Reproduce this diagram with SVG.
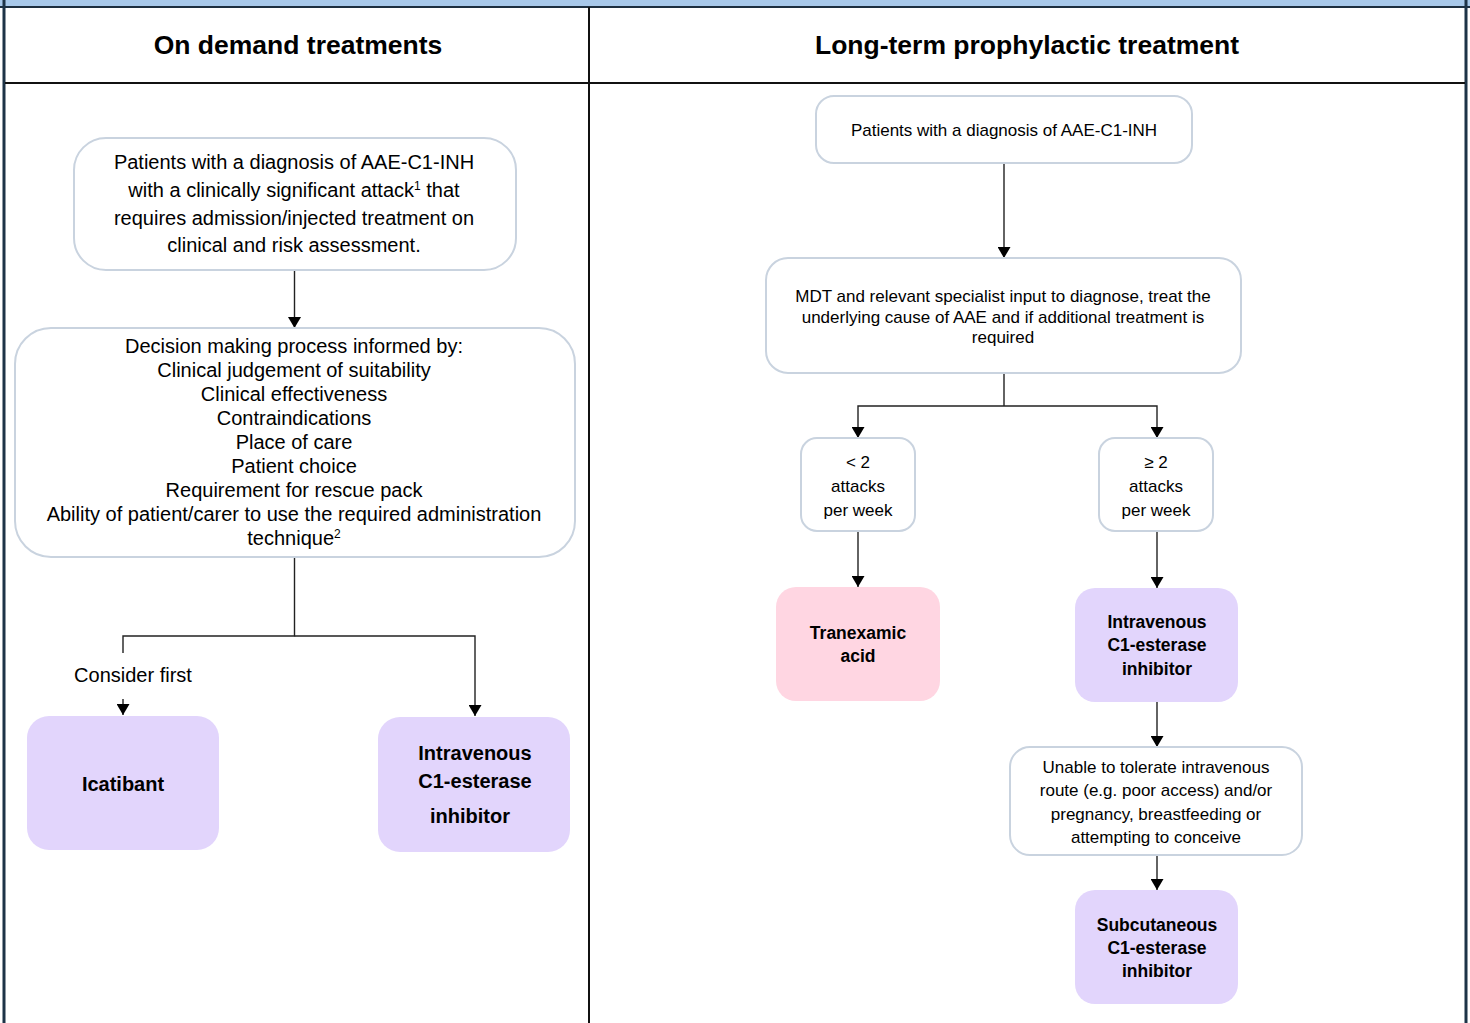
<svg xmlns="http://www.w3.org/2000/svg" width="1470" height="1023" viewBox="0 0 1470 1023">
<defs>
<marker id="ah" markerWidth="11" markerHeight="13" refX="11" refY="6.5" orient="auto" markerUnits="userSpaceOnUse">
<path d="M0,0 L11,6.5 L0,13 Z" fill="#000"/>
</marker>
<style>
.hdr{font-family:"Liberation Sans",Arial,sans-serif;font-weight:bold;font-size:26.5px;fill:#000;text-anchor:middle}
.box{fill:#fff;stroke:#c9d3df;stroke-width:2}
.lav{fill:#e2d5fc;stroke:none}
.pink{fill:#ffd6e2;stroke:none}
.t19{font-family:"Liberation Sans",Arial,sans-serif;font-size:20px;fill:#000;text-anchor:middle}
.t16{font-family:"Liberation Sans",Arial,sans-serif;font-size:17px;fill:#000;text-anchor:middle}
.b20{font-family:"Liberation Sans",Arial,sans-serif;font-weight:bold;font-size:20px;fill:#000;text-anchor:middle}
.b17{font-family:"Liberation Sans",Arial,sans-serif;font-weight:bold;font-size:17.5px;fill:#000;text-anchor:middle}
.c{fill:none;stroke:#222;stroke-width:1.4}
.ca{fill:none;stroke:#222;stroke-width:1.4;marker-end:url(#ah)}
</style>
</defs>
<rect width="1470" height="1023" fill="#fff"/>
<g id="frame">
<rect x="0" y="0" width="1470" height="7" fill="#a8c9eb"/>
<line x1="0" y1="7" x2="1470" y2="7" stroke="#1d2f40" stroke-width="2"/>
<line x1="4" y1="0" x2="4" y2="1023" stroke="#1d3347" stroke-width="3"/>
<line x1="1466" y1="0" x2="1466" y2="1023" stroke="#1d3347" stroke-width="3"/>
<line x1="589" y1="7" x2="589" y2="1023" stroke="#111" stroke-width="2"/>
<line x1="5" y1="83" x2="1465" y2="83" stroke="#111" stroke-width="2"/>
<text class="hdr" x="298" y="54">On demand treatments</text>
<text class="hdr" x="1027" y="54">Long-term prophylactic treatment</text>
</g>
<g id="connectors">
<line class="ca" x1="294.5" y1="270" x2="294.5" y2="328"/>
<polyline class="c" points="294.5,557 294.5,636 123,636 123,653"/>
<line class="ca" x1="123" y1="699" x2="123" y2="715"/>
<polyline class="ca" points="294.5,636 475,636 475,716"/>
<line class="ca" x1="1004" y1="163" x2="1004" y2="258"/>
<polyline class="c" points="1004,373 1004,406"/>
<polyline class="ca" points="1004,406 858,406 858,438"/>
<polyline class="ca" points="1004,406 1157,406 1157,438"/>
<line class="ca" x1="858" y1="531" x2="858" y2="587"/>
<line class="ca" x1="1157" y1="531" x2="1157" y2="588"/>
<line class="ca" x1="1157" y1="702" x2="1157" y2="747"/>
<line class="ca" x1="1157" y1="855" x2="1157" y2="890"/>
<text class="t19" x="133" y="682">Consider first</text>
</g>
<g id="n_patients_left">
<rect class="box" x="74" y="138" width="442" height="132" rx="32"/>
<text class="t19" x="294" y="169">Patients with a diagnosis of AAE-C1-INH</text>
<text class="t19" x="294" y="197">with a clinically significant attack<tspan font-size="12" dy="-7">1</tspan><tspan dy="7"> that</tspan></text>
<text class="t19" x="294" y="225">requires admission/injected treatment on</text>
<text class="t19" x="294" y="252">clinical and risk assessment.</text>
</g>
<g id="n_decision">
<rect class="box" x="15" y="328" width="560" height="229" rx="36"/>
<text class="t19" x="294" y="353">Decision making process informed by:</text>
<text class="t19" x="294" y="377">Clinical judgement of suitability</text>
<text class="t19" x="294" y="401">Clinical effectiveness</text>
<text class="t19" x="294" y="425">Contraindications</text>
<text class="t19" x="294" y="449">Place of care</text>
<text class="t19" x="294" y="473">Patient choice</text>
<text class="t19" x="294" y="497">Requirement for rescue pack</text>
<text class="t19" x="294" y="521">Ability of patient/carer to use the required administration</text>
<text class="t19" x="294" y="545">technique<tspan font-size="12" dy="-7">2</tspan></text>
</g>
<g id="n_icatibant">
<rect class="lav" x="27" y="716" width="192" height="134" rx="22"/>
<text class="b20" x="123" y="791">Icatibant</text>
</g>
<g id="n_iv_left">
<rect class="lav" x="378" y="717" width="192" height="135" rx="22"/>
<text class="b20" x="475" y="760">Intravenous</text>
<text class="b20" x="475" y="788">C1-esterase</text>
<text class="b20" x="470" y="823">inhibitor</text>
</g>
<g id="n_patients_right">
<rect class="box" x="816" y="96" width="376" height="67" rx="18"/>
<text class="t16" x="1004" y="136">Patients with a diagnosis of AAE-C1-INH</text>
</g>
<g id="n_mdt">
<rect class="box" x="766" y="258" width="475" height="115" rx="22"/>
<text class="t16" x="1003" y="302">MDT and relevant specialist input to diagnose, treat the</text>
<text class="t16" x="1003" y="323">underlying cause of AAE and if additional treatment is</text>
<text class="t16" x="1003" y="343">required</text>
</g>
<g id="n_lt2">
<rect class="box" x="801" y="438" width="114" height="93" rx="16"/>
<text class="t16" x="858" y="468">&lt; 2</text>
<text class="t16" x="858" y="492">attacks</text>
<text class="t16" x="858" y="516">per week</text>
</g>
<g id="n_ge2">
<rect class="box" x="1099" y="438" width="114" height="93" rx="16"/>
<text class="t16" x="1156" y="468">≥ 2</text>
<text class="t16" x="1156" y="492">attacks</text>
<text class="t16" x="1156" y="516">per week</text>
</g>
<g id="n_tranexamic">
<rect class="pink" x="776" y="587" width="164" height="114" rx="20"/>
<text class="b17" x="858" y="639">Tranexamic</text>
<text class="b17" x="858" y="662">acid</text>
</g>
<g id="n_iv_right">
<rect class="lav" x="1075" y="588" width="163" height="114" rx="20"/>
<text class="b17" x="1157" y="628">Intravenous</text>
<text class="b17" x="1157" y="651">C1-esterase</text>
<text class="b17" x="1157" y="675">inhibitor</text>
</g>
<g id="n_unable">
<rect class="box" x="1010" y="747" width="292" height="108" rx="20"/>
<text class="t16" x="1156" y="773">Unable to tolerate intravenous</text>
<text class="t16" x="1156" y="796">route (e.g. poor access) and/or</text>
<text class="t16" x="1156" y="820">pregnancy, breastfeeding or</text>
<text class="t16" x="1156" y="843">attempting to conceive</text>
</g>
<g id="n_subcut">
<rect class="lav" x="1075" y="890" width="163" height="114" rx="20"/>
<text class="b17" x="1157" y="931">Subcutaneous</text>
<text class="b17" x="1157" y="954">C1-esterase</text>
<text class="b17" x="1157" y="977">inhibitor</text>
</g>
</svg>
